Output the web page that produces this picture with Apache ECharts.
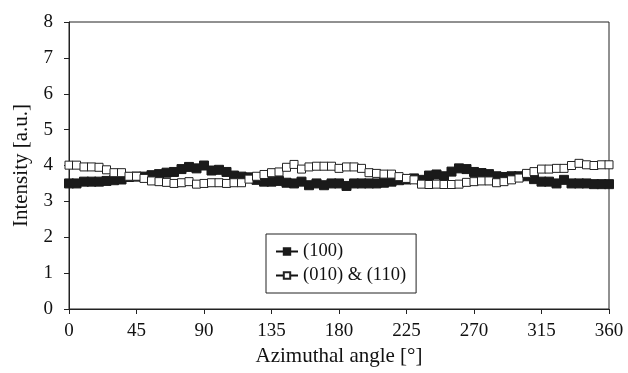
<!DOCTYPE html>
<html>
<head>
<meta charset="utf-8">
<script src="https://cdn.jsdelivr.net/npm/echarts@6/dist/echarts.min.js"></script>
<style>html,body{margin:0;padding:0;background:#fff;}#c{width:628px;height:373px;}</style>
</head>
<body>
<div id="c"></div>
<script>
const angles = [0,5,10,15,20,25,30,35,40,45,50,55,60,65,70,75,80,85,90,95,100,105,110,115,120,125,130,135,140,145,150,155,160,165,170,175,180,185,190,195,200,205,210,215,220,225,230,235,240,245,250,255,260,265,270,275,280,285,290,295,300,305,310,315,320,325,330,335,340,345,350,355,360];
const s100 = [3.5,3.5,3.55,3.55,3.55,3.57,3.59,3.61,3.68,3.69,3.69,3.73,3.76,3.8,3.82,3.9,3.96,3.92,4.0,3.86,3.88,3.82,3.72,3.69,3.67,3.6,3.55,3.55,3.57,3.52,3.5,3.55,3.45,3.5,3.45,3.5,3.5,3.43,3.5,3.5,3.5,3.5,3.52,3.55,3.59,3.61,3.64,3.6,3.72,3.75,3.7,3.83,3.92,3.9,3.82,3.79,3.76,3.7,3.68,3.7,3.7,3.7,3.62,3.55,3.55,3.5,3.6,3.5,3.5,3.5,3.48,3.48,3.48];
const s010 = [4.01,4.01,3.96,3.96,3.95,3.88,3.8,3.8,3.7,3.7,3.64,3.57,3.55,3.53,3.5,3.52,3.55,3.48,3.5,3.52,3.52,3.5,3.52,3.52,3.62,3.7,3.75,3.8,3.82,3.95,4.03,3.9,3.96,3.98,3.98,3.98,3.92,3.96,3.96,3.92,3.8,3.78,3.76,3.76,3.69,3.64,3.6,3.48,3.47,3.48,3.47,3.47,3.48,3.53,3.55,3.57,3.57,3.52,3.55,3.6,3.65,3.78,3.83,3.9,3.9,3.92,3.92,4.0,4.06,4.02,4.0,4.02,4.02];
const names = ['(100)', '(010) & (110)'];
const xTitle = 'Azimuthal angle [°]';
const yTitle = 'Intensity [a.u.]';

const font = 'Liberation Serif';
const chart = echarts.init(document.getElementById('c'), null, {renderer: 'canvas'});
chart.setOption({
  animation: false,
  backgroundColor: '#fff',
  grid: {left: 69, right: 19, top: 22, bottom: 64, show: true, borderColor: '#222', borderWidth: 1},
  legend: {
    orient: 'vertical', left: 266, top: 234,
    borderColor: '#222', borderWidth: 1, padding: [8, 10, 8, 9],
    itemWidth: 22, itemHeight: 8, itemGap: 5,
    textStyle: {fontFamily: font, fontSize: 18.5, color: '#111'},
    data: names
  },
  xAxis: {
    type: 'value', min: 0, max: 360, interval: 45,
    name: xTitle, nameLocation: 'middle', nameGap: 36,
    nameTextStyle: {fontFamily: font, fontSize: 21, color: '#111'},
    axisLine: {lineStyle: {color: '#222'}},
    axisTick: {length: 5, lineStyle: {color: '#222'}},
    axisLabel: {fontFamily: font, fontSize: 19, color: '#111', margin: 13},
    splitLine: {show: false}
  },
  yAxis: {
    type: 'value', min: 0, max: 8, interval: 1,
    name: yTitle, nameLocation: 'middle', nameGap: 37, nameRotate: 90,
    nameTextStyle: {fontFamily: font, fontSize: 21, color: '#111'},
    axisLine: {show: true, lineStyle: {color: '#222'}},
    axisTick: {show: true, length: 5, lineStyle: {color: '#222'}},
    axisLabel: {fontFamily: font, fontSize: 19, color: '#111', margin: 16},
    splitLine: {show: false}
  },
  series: [
    {
      name: names[0], type: 'line',
      data: angles.map((a, i) => [a, s100[i]]),
      symbol: 'rect', symbolSize: 9, showAllSymbol: true,
      lineStyle: {color: '#111', width: 1},
      itemStyle: {color: '#1a1a1a', borderColor: '#1a1a1a', borderWidth: 1}
    },
    {
      name: names[1], type: 'line',
      data: angles.map((a, i) => [a, s010[i]]),
      symbol: 'rect', symbolSize: 8, showAllSymbol: true,
      lineStyle: {color: '#111', width: 1},
      itemStyle: {color: '#fff', borderColor: '#222', borderWidth: 1}
    }
  ]
});
</script>
</body>
</html>
